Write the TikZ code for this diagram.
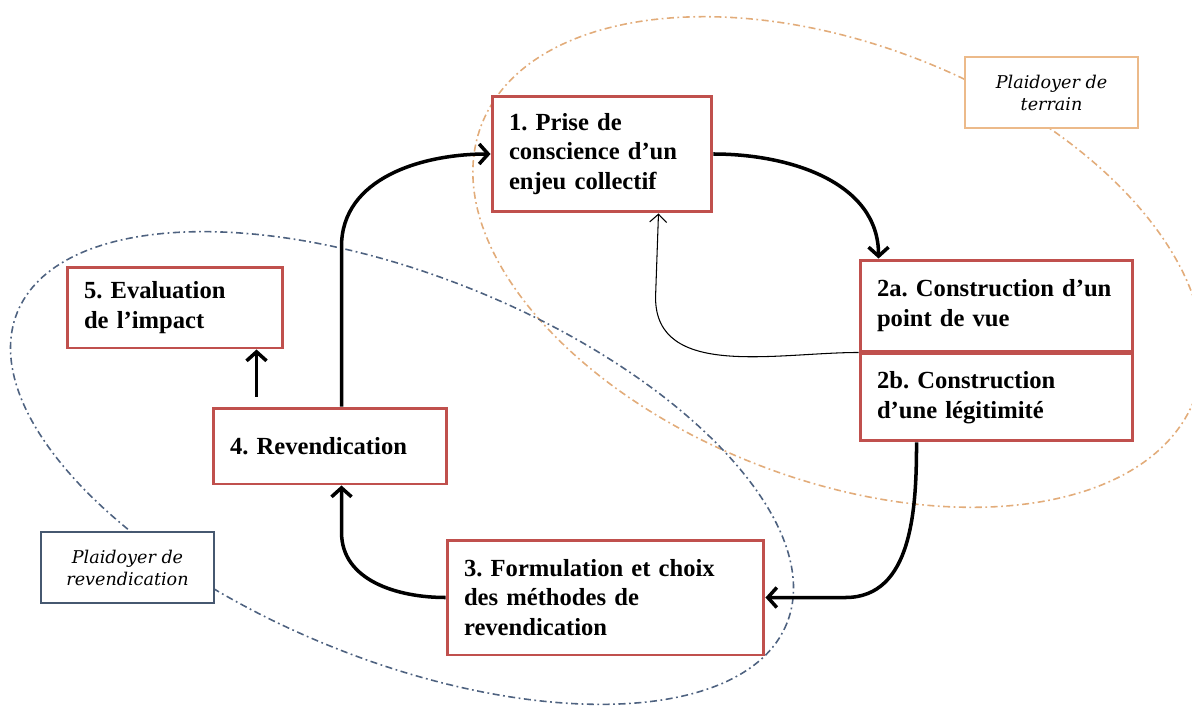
\documentclass[tikz,border=0pt]{standalone}
\usepackage{fontspec}
\setmainfont{Liberation Serif}
\newfontfamily\etiquette{DejaVu Serif}
\usetikzlibrary{arrows.meta}
\frenchspacing

\definecolor{rougeboite}{RGB}{192,80,77}
\definecolor{orangeplaid}{RGB}{226,172,122}
\definecolor{bleuplaid}{RGB}{78,98,128}
\definecolor{bordterrain}{RGB}{236,186,138}
\definecolor{bordrevend}{RGB}{70,88,112}

\tikzset{
	etape/.style={draw=rougeboite, line width=1.7pt, fill=white, inner xsep=0.34cm, align=left,
		font=\fontsize{14}{17}\selectfont\bfseries},
	plaidoyer/.style={fill=white, line width=0.7pt, align=center, minimum width=3.46cm, minimum height=1.42cm,
		font=\etiquette\itshape\fontsize{10}{12.5}\selectfont},
	contour/.style={line width=0.9pt, dash pattern=on 4pt off 2pt on 1pt off 2pt},
	fleche/.style={line width=2pt, -{Straight Barb[length=1.8mm,width=4mm]}},
	retour/.style={line width=0.6pt, -{Straight Barb[length=1.6mm,width=3.4mm]}}
}

\begin{document}
\begin{tikzpicture}[x=0.02cm, y=-0.02cm]
	
	\useasboundingbox (0,0) rectangle (1192,713);
	
	\draw[contour, orangeplaid, rotate around={-21:(838,262)}] (838,262) ellipse (382 and 218);
	\draw[contour, bleuplaid, rotate around={-22:(402,468)}] (402,468) ellipse (415 and 192);
	
	\node[etape, text width=3.72cm, minimum height=2.32cm] (prise) at (602,154) {1. Prise de\\conscience d’un\\enjeu collectif};
	\node[etape, text width=4.78cm, minimum height=1.82cm] (pointvue) at (996.5,305.5) {2a. Construction d’un\\point de vue};
	\node[etape, text width=4.78cm, minimum height=1.74cm, anchor=north] (legitimite) at (pointvue.south) {2b. Construction\\d’une légitimité};
	\node[etape, text width=5.66cm, minimum height=2.3cm] (formulation) at (605.5,597.5) {3. Formulation et choix\\des méthodes de\\revendication};
	\node[etape, text width=4.0cm, minimum height=1.52cm] (revendication) at (330,446) {4. Revendication};
	\node[etape, text width=3.64cm, minimum height=1.62cm] (evaluation) at (175,307.5) {5. Evaluation\\de l’impact};
	
	\node[plaidoyer, draw=bordterrain] (terrain) at (1051.5,92.5) {Plaidoyer de\\terrain};
	\node[plaidoyer, draw=bordrevend] (revend) at (127.5,567.5) {Plaidoyer de\\revendication};
	
	\draw[fleche] (prise.east) to[out=0,in=90] ([xshift=0.4cm]pointvue.north west);
	\draw[retour] (pointvue.south west) to[out=180,in=-90] ++(-203,-55) -- ([xshift=-1.1cm]prise.south east);
	\draw[fleche] ([xshift=1.16cm]legitimite.south west) to[out=-90,in=0] ([xshift=1.6cm]formulation.east) -- (formulation.east);
	\draw[fleche] (formulation.west) to[out=180,in=-90] ++(-104,-65) -- ([xshift=2.6cm]revendication.south west);
	\draw[fleche] ([xshift=2.6cm]revendication.north west) -- ++(0,-160) to[out=90,in=180] (prise.west);
	\draw[fleche] ([xshift=0.9cm,yshift=0.2cm]revendication.north west) -- ([xshift=0.9cm]revendication.north west |- evaluation.south);

\end{tikzpicture}
\end{document}
